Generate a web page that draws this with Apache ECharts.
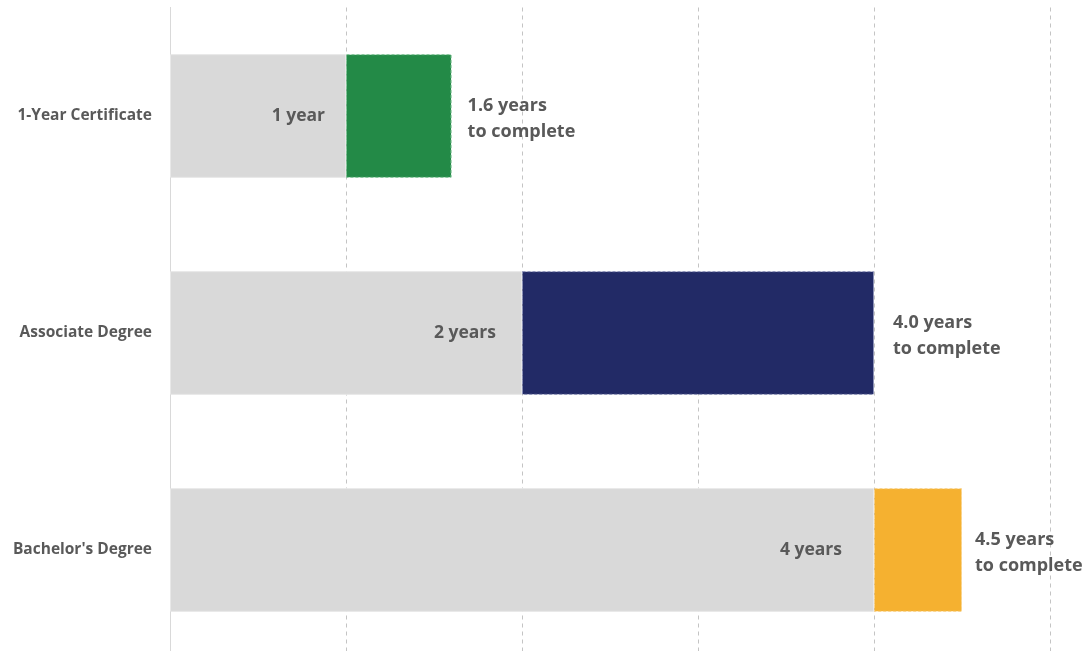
<!DOCTYPE html>
<html>
<head>
<meta charset="utf-8">
<script src="https://cdn.jsdelivr.net/npm/echarts@6/dist/echarts.min.js"></script>
<style>
  html, body { margin: 0; padding: 0; background: #ffffff; overflow: hidden; height: 651px; }
  #chart { width: 1084px; height: 666px; }
</style>
</head>
<body>
<div id="chart"></div>
<script>
// Programme names, nominal length and actual time to complete (years)
const programs = ['1-Year Certificate', 'Associate Degree', "Bachelor's Degree"];
const nominalYears = [1, 2, 4];
const actualYears = [1.6, 4.0, 4.5];
const nominalLabels = ['1 year', '2 years', '4 years'];
const programColors = ['#238a47', '#222a66', '#f5b130'];
const programBorders = ['#7fc496', '#8a90b8', '#f9d28a'];

const extraYears = actualYears.map((v, i) => +(v - nominalYears[i]).toFixed(2));

const chart = echarts.init(document.getElementById('chart'));
const textColor = '#595959';
const fontFamily = '"Open Sans", "Noto Sans", sans-serif';
const insideGaps = [21, 26, 32];
const outsideGaps = [16, 19, 13];

// The plot area runs a little past the bottom edge of the page
chart.setOption({
  animation: false,
  grid: { left: 170, width: 880, top: 7.5, height: 651, containLabel: false },
  xAxis: {
    type: 'value',
    min: 0,
    max: 5,
    interval: 1,
    axisLabel: { show: false },
    axisLine: { show: false },
    axisTick: { show: false },
    splitLine: { show: true, lineStyle: { color: '#c4c4c4', type: [4, 4], width: 1 } }
  },
  yAxis: {
    type: 'category',
    data: programs,
    inverse: true,
    axisLine: { show: true, lineStyle: { color: '#d9d9d9', width: 1 } },
    axisTick: { show: false },
    axisLabel: {
      color: textColor,
      fontFamily: fontFamily,
      fontWeight: 'bold',
      fontSize: 15.5,
      margin: 18
    }
  },
  series: [
    {
      name: 'Nominal',
      type: 'bar',
      stack: 'time',
      barWidth: '57%',
      data: nominalYears.map((v, i) => ({
        value: v,
        label: { formatter: nominalLabels[i], distance: insideGaps[i] }
      })),
      itemStyle: { color: '#d9d9d9', borderColor: '#e8e8e8', borderWidth: 1 },
      label: {
        show: true,
        position: 'insideRight',
        color: textColor,
        fontFamily: fontFamily,
        fontWeight: 'bold',
        fontSize: 17.5
      }
    },
    {
      name: 'Actual',
      type: 'bar',
      stack: 'time',
      barWidth: '57%',
      data: extraYears.map((v, i) => ({
        value: v,
        itemStyle: {
          color: programColors[i],
          borderColor: programBorders[i],
          borderWidth: 1,
          borderType: [3, 2]
        },
        label: {
          formatter: actualYears[i].toFixed(1) + ' years\nto complete',
          distance: outsideGaps[i]
        }
      })),
      label: {
        show: true,
        position: 'right',
        color: textColor,
        fontFamily: fontFamily,
        fontWeight: 'bold',
        fontSize: 18,
        lineHeight: 26,
        align: 'left',
        offset: [0, 3]
      }
    }
  ]
});
</script>
</body>
</html>
